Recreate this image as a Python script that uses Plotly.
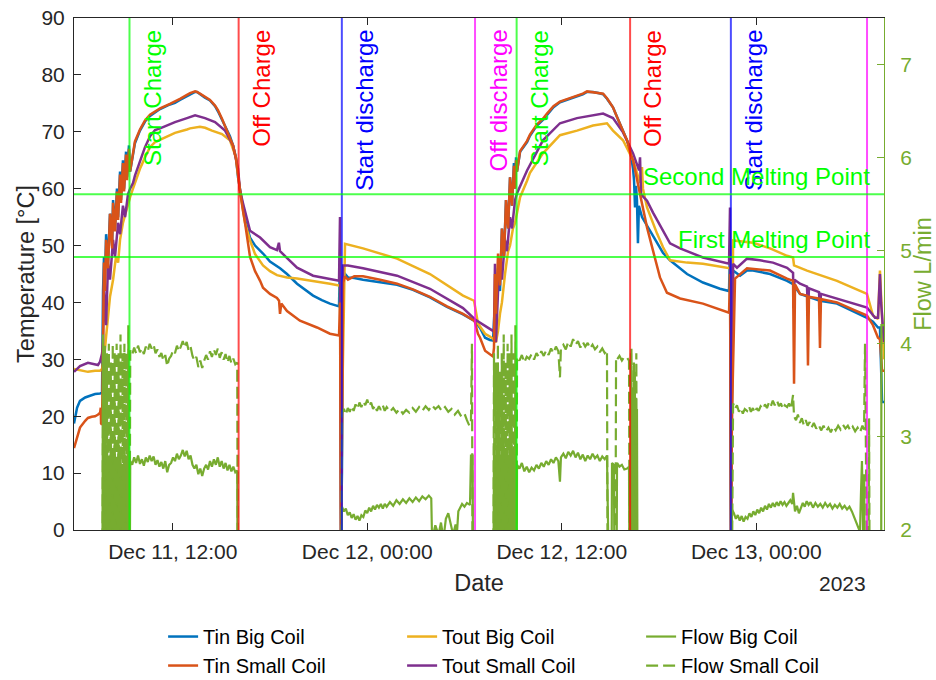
import pandas as pd
import plotly.graph_objects as go

# ---------------- data (hours after 2023-12-11 00:00, value) ----------------
BASE = pd.Timestamp("2023-12-11 00:00")
X_START_H = 5.91
X_END_H = 55.88

TIN_BIG = [
    (5.91, 18.7), (6.10, 21.5), (6.28, 22.7), (6.60, 23.3), (6.90, 23.6), (7.21, 23.9), (7.52, 24.0), (7.64, 24.2),
    (7.70, 42), (7.76, 48), (7.82, 44), (7.89, 52), (8.01, 47), (8.13, 55.6), (8.26, 50), (8.32, 58), (8.44, 53),
    (8.56, 60), (8.63, 55), (8.75, 63), (8.81, 58), (8.93, 65), (9.00, 60), (9.12, 66.5), (9.18, 62), (9.30, 67.6), (9.37, 63),
    (9.55, 66), (9.67, 68), (9.98, 70.2), (10.29, 71.8), (10.60, 72.8), (10.91, 73.4), (11.22, 74.0), (11.83, 74.8),
    (12.14, 75.1), (12.45, 75.6), (12.88, 76.3), (13.07, 76.6), (13.38, 77.0), (13.50, 77.0), (13.68, 76.6), (13.99, 76.0),
    (14.30, 75.5), (14.61, 74.5), (14.79, 73.6), (15.04, 72.2), (15.23, 71.0), (15.53, 69.2), (15.72, 67.6), (15.90, 65.5),
    (16.03, 62.0), (16.21, 58.5),
    (16.34, 56.0), (16.46, 54.5), (16.77, 51.4), (17.08, 50.0), (17.57, 48.6), (18.00, 47.2), (18.62, 46.0), (19.05, 45.0),
    (19.67, 43.3), (20.66, 41.2), (21.20, 40.4), (21.70, 39.8), (22.26, 39.3),
    (22.32, 48), (22.38, 0), (22.44, 10), (22.51, 44.4), (22.63, 45.0), (22.81, 44.4), (23.20, 44.3), (23.74, 44.0),
    (24.79, 43.6), (25.84, 43.1), (26.82, 42.2), (27.87, 40.9), (28.92, 39.2), (29.91, 37.9), (30.59, 36.8), (30.65, 36.7),
    (30.96, 35.5), (31.27, 33.8), (31.57, 33.4), (31.76, 33.3),
    (31.88, 40), (31.94, 36), (32.07, 46), (32.19, 42), (32.31, 53), (32.44, 48), (32.56, 58), (32.69, 53), (32.81, 62),
    (32.93, 57), (33.05, 64.5), (33.12, 60), (33.18, 65.5), (33.24, 63),
    (33.43, 66.5), (33.86, 68.2), (34.04, 69.3), (34.44, 71.0), (34.84, 72.1), (35.09, 73.0), (35.49, 74.3), (35.89, 75.2),
    (36.30, 75.6), (36.70, 76.0), (36.94, 76.2), (37.30, 76.6), (37.56, 77.0), (37.93, 77.0), (38.25, 76.8), (38.55, 76.6),
    (38.79, 75.8), (39.16, 74.3), (39.41, 72.6), (39.59, 71.5), (39.78, 70.2), (40.03, 68.5), (40.21, 66.8), (40.40, 63.5),
    (40.46, 61.4), (40.52, 56.7), (40.58, 60.5), (40.64, 58.0), (40.70, 50.4), (40.76, 57.0), (40.95, 55.0), (41.26, 53.5),
    (41.45, 52.6), (41.88, 50.5), (42.25, 48.7), (42.68, 47.4), (43.30, 46.0), (43.73, 45.0), (44.71, 43.5), (45.76, 42.4),
    (46.32, 42.0),
    (46.38, 50), (46.44, 0), (46.50, 20), (46.57, 45.6), (47.00, 44.7), (47.43, 45.6), (47.80, 45.6), (48.85, 45.0),
    (49.90, 43.8), (50.27, 43.2), (50.70, 41.5), (51.93, 40.3), (52.98, 39.8), (54.09, 38.3), (54.83, 37.3), (55.20, 36.6),
    (55.51, 35.6), (55.63, 35.6), (55.70, 30), (55.76, 22.5), (55.88, 22.5),
]

TIN_SMALL = [
    (5.91, 14.4), (6.10, 16.5), (6.28, 18.0), (6.60, 19.2), (6.77, 19.7), (7.00, 19.9), (7.21, 20.0), (7.40, 20.3),
    (7.52, 20.6), (7.56, 21.5), (7.58, 18.7), (7.64, 18.5),
    (7.70, 40), (7.76, 47), (7.82, 42), (7.89, 51), (8.01, 46), (8.13, 55.6), (8.26, 49.5), (8.32, 57.5), (8.44, 52.5),
    (8.56, 59.5), (8.63, 54.5), (8.75, 62.5), (8.81, 57.5), (8.93, 64.5), (9.00, 59.5), (9.12, 66.0), (9.18, 61.5),
    (9.30, 67.0), (9.37, 63.0),
    (9.55, 66.3), (9.67, 68.3), (9.98, 70.4), (10.29, 72.0), (10.60, 73.0), (10.91, 73.5), (11.22, 74.1), (11.83, 74.9),
    (12.14, 75.3), (12.45, 75.8), (12.88, 76.5), (13.07, 76.8), (13.38, 77.1), (13.50, 77.0), (13.68, 76.7), (13.99, 76.2),
    (14.30, 75.6), (14.61, 74.6), (14.79, 73.8), (15.04, 72.3), (15.23, 71.0), (15.53, 69.2), (15.72, 67.6), (15.90, 65.3),
    (16.03, 62.0), (16.21, 58.5),
    (16.34, 56.0), (16.46, 54.0), (16.77, 48.0), (17.08, 45.5), (17.39, 43.8), (17.57, 42.6), (18.00, 41.5), (18.43, 40.8),
    (18.56, 40.3), (18.62, 38.0), (18.70, 39.8), (19.05, 38.5), (19.85, 36.8), (20.90, 35.6), (21.70, 34.5), (22.26, 34.2),
    (22.32, 40), (22.38, 0), (22.44, 15), (22.51, 43.5), (22.63, 44.6), (22.81, 44.0), (23.20, 44.6), (23.74, 44.6),
    (24.79, 44.0), (25.84, 43.3), (26.82, 42.3), (27.87, 41.0), (28.92, 39.3), (29.91, 38.0), (30.59, 36.8), (30.65, 36.5),
    (30.83, 34.5), (30.96, 33.8), (31.27, 31.5), (31.57, 30.8), (31.76, 30.5),
    (31.82, 32), (31.88, 45), (31.94, 38), (32.07, 48.6), (32.19, 43), (32.31, 53), (32.44, 48), (32.56, 58), (32.69, 53),
    (32.81, 62), (32.93, 57), (33.05, 64), (33.12, 60), (33.18, 65), (33.24, 63),
    (33.43, 66.6), (33.86, 68.4), (34.04, 69.5), (34.44, 71.2), (34.84, 72.3), (35.09, 73.2), (35.49, 74.5), (35.89, 75.3),
    (36.30, 75.7), (36.70, 76.1), (36.94, 76.3), (37.30, 76.7), (37.56, 77.1), (37.93, 77.0), (38.25, 76.9), (38.55, 76.7),
    (38.79, 75.9), (39.16, 74.3), (39.41, 72.6), (39.59, 71.5), (39.78, 70.2), (40.03, 68.5), (40.21, 66.5), (40.40, 65.0),
    (40.83, 59.0), (41.26, 53.2), (41.63, 49.1), (42.06, 44.4), (42.49, 41.7), (43.30, 40.7), (44.71, 39.8), (45.50, 39.0),
    (46.32, 38.2),
    (46.38, 45), (46.44, 0), (46.50, 20), (46.69, 44.2), (47.43, 46.0), (48.85, 45.6), (49.90, 44.2), (50.27, 43.8),
    (50.33, 25.7), (50.39, 43.2), (50.70, 41.5), (51.13, 41.2), (51.19, 28.9), (51.25, 41.0), (51.87, 40.7), (51.93, 32.0),
    (51.99, 40.6), (52.98, 40.0), (54.09, 38.6), (54.83, 37.7), (55.20, 36.0), (55.51, 33.8), (55.63, 33.5), (55.70, 29),
    (55.76, 28), (55.88, 28),
]

TOUT_BIG = [
    (5.91, 28.3), (6.28, 28.1), (6.77, 27.8), (7.21, 28.0), (7.52, 28.0), (7.64, 28.3),
    (7.76, 30), (7.89, 34), (8.01, 38), (8.13, 41), (8.32, 44), (8.50, 48), (8.63, 47), (8.75, 51), (8.93, 54), (9.12, 56),
    (9.24, 57.5), (9.37, 58.5), (9.55, 60), (9.67, 61), (9.98, 63.5), (10.29, 65.5), (10.60, 67.3), (10.91, 68.2),
    (11.22, 68.6), (11.83, 69.4), (12.14, 69.8), (12.88, 70.4), (13.07, 70.6), (13.68, 70.9), (14.00, 70.7), (14.42, 70.2),
    (15.04, 69.6), (15.53, 68.5), (15.90, 65.5), (16.15, 59.7),
    (16.34, 56.0), (16.46, 54.0), (16.77, 50.9), (17.08, 48.5), (17.57, 46.5), (18.00, 45.5), (18.43, 44.8), (19.05, 44.4),
    (19.67, 44.2), (20.66, 43.8), (21.70, 43.3), (22.26, 43.0),
    (22.32, 43), (22.38, 0), (22.44, 20), (22.63, 50.3), (23.74, 49.5), (25.84, 47.7), (27.87, 45.0), (29.91, 41.2),
    (30.59, 40.3), (30.83, 36.3), (31.27, 34.5), (31.57, 34.0), (31.76, 33.6),
    (31.94, 33.0), (32.07, 35), (32.19, 38), (32.31, 40), (32.50, 45), (32.69, 49), (32.81, 50), (32.99, 53), (33.12, 54),
    (33.24, 56), (33.43, 58.5), (33.86, 61.4), (34.04, 62.8), (34.84, 66.2), (35.89, 69.4), (36.94, 70.2), (37.93, 71.1),
    (38.79, 71.5), (39.16, 70.2), (39.78, 68.5), (40.40, 65.0), (40.83, 61.0), (40.95, 63.8), (41.01, 60.0), (41.26, 56.7),
    (41.88, 52.1), (42.25, 49.7), (42.68, 47.4), (43.73, 47.0), (44.71, 46.8), (46.32, 46.1),
    (46.38, 46), (46.44, 0), (46.50, 25), (46.57, 50.9), (47.80, 50.5), (48.85, 49.5), (49.90, 48.2), (50.27, 47.9),
    (50.33, 46.5), (51.13, 45.6), (52.98, 43.8), (54.83, 41.5), (55.20, 37.7), (55.51, 37.1), (55.63, 45.6), (55.76, 38),
    (55.88, 30),
]

TOUT_SMALL = [
    (5.91, 27.8), (6.28, 28.8), (6.77, 29.4), (7.21, 29.2), (7.39, 29.0), (7.52, 29.6), (7.64, 31.0),
    (7.70, 33), (7.76, 43), (7.89, 36), (8.01, 47), (8.13, 44), (8.32, 51), (8.44, 48), (8.63, 54), (8.75, 52), (8.93, 57),
    (9.06, 55), (9.24, 59), (9.37, 60), (9.55, 61), (9.67, 62.3), (9.98, 65), (10.29, 67.3), (10.60, 69.2), (10.91, 70.3),
    (11.22, 70.6), (11.83, 71.3), (12.14, 71.7), (12.88, 72.4), (13.38, 72.9), (13.99, 72.4), (14.61, 71.7), (15.23, 70.2),
    (15.72, 67.6), (16.03, 63.5), (16.15, 59.7),
    (16.34, 57.4), (16.77, 52.6), (17.39, 51.4), (18.00, 49.7), (18.43, 49.2), (18.55, 50.5), (18.62, 49.0), (19.67, 46.1),
    (20.66, 44.7), (21.70, 44.2), (22.26, 43.8),
    (22.32, 55), (22.38, 0), (22.44, 30), (22.51, 46.5), (22.81, 46.5), (23.74, 46.0), (25.84, 44.7), (27.87, 42.4),
    (29.91, 39.0), (30.65, 37.0), (31.76, 35.0),
    (31.82, 35), (31.88, 46.8), (31.94, 33), (32.07, 42), (32.19, 47), (32.31, 44), (32.50, 51), (32.62, 49), (32.81, 55),
    (32.93, 53), (33.12, 58), (33.24, 59.2), (33.86, 63.2), (34.84, 68.5), (35.89, 71.5), (36.94, 72.4), (37.93, 72.9),
    (38.55, 73.2), (39.16, 72.4), (39.78, 69.9), (40.40, 66.2), (40.77, 63.2), (40.83, 65.5), (40.89, 59.0), (41.26, 57.9),
    (41.63, 55.8), (42.68, 50.4), (43.30, 49.5), (44.71, 47.9), (46.32, 46.8),
    (46.38, 56.7), (46.44, 0), (46.50, 30), (46.57, 46.8), (46.81, 46.1), (47.43, 47.7), (48.23, 47.4), (49.03, 47.0),
    (49.90, 46.1), (50.27, 45.2), (50.30, 39.0), (50.36, 44.0), (50.70, 43.3), (51.13, 42.8), (51.19, 38.0), (51.25, 42.5),
    (51.87, 41.8), (51.93, 38.2), (51.99, 41.5), (52.98, 40.7), (54.83, 39.1), (55.33, 37.3), (55.51, 37.3), (55.63, 45.0),
    (55.70, 40), (55.88, 33),
]

FLOW_BIG = [
    (5.91, 0), (7.64, 0),
    (7.70, 4.1), (7.76, 0), (7.82, 3.9), (7.88, 0), (7.94, 2.9), (8.00, 0), (8.06, 2.8), (8.12, 0), (8.18, 3.0), (8.24, 0),
    (8.30, 2.8), (8.36, 0), (8.42, 2.9), (8.48, 0), (8.54, 2.7), (8.60, 0), (8.66, 2.9), (8.72, 0), (8.78, 2.8), (8.84, 0),
    (8.90, 2.7), (8.96, 0), (9.02, 2.9), (9.08, 0), (9.14, 2.8), (9.20, 0), (9.26, 2.8), (9.32, 0),
    (9.38, 2.74), (9.50, 2.70), (9.62, 2.78), (9.74, 2.72), (9.86, 2.80), (9.98, 2.71), (10.10, 2.76), (10.22, 2.69),
    (10.34, 2.78), (10.46, 2.73), (10.58, 2.80), (10.70, 2.74), (10.82, 2.79), (10.94, 2.70), (11.06, 2.75), (11.18, 2.68),
    (11.30, 2.73), (11.42, 2.66), (11.54, 2.74), (11.66, 2.62), (11.78, 2.70), (11.90, 2.72), (12.02, 2.78), (12.14, 2.74),
    (12.26, 2.82), (12.38, 2.76), (12.50, 2.80), (12.62, 2.86), (12.74, 2.79), (12.86, 2.85), (12.98, 2.76), (13.10, 2.80),
    (13.22, 2.70), (13.34, 2.66), (13.46, 2.70), (13.58, 2.60), (13.70, 2.66), (13.82, 2.58), (13.94, 2.66), (14.06, 2.70),
    (14.18, 2.65), (14.30, 2.74), (14.42, 2.68), (14.54, 2.76), (14.66, 2.70), (14.78, 2.78), (14.90, 2.68), (15.02, 2.74),
    (15.14, 2.66), (15.26, 2.72), (15.38, 2.64), (15.50, 2.70), (15.62, 2.63), (15.74, 2.68), (15.86, 2.62), (15.98, 2.64),
    (16.03, 0), (22.38, 0),
    (22.44, 2.25), (22.56, 2.20), (22.68, 2.23), (22.80, 2.16), (22.92, 2.19), (23.04, 2.13), (23.16, 2.17), (23.28, 2.11),
    (23.40, 2.15), (23.52, 2.10), (23.64, 2.16), (23.76, 2.14), (23.88, 2.21), (24.00, 2.18), (24.12, 2.24), (24.24, 2.20),
    (24.36, 2.26), (24.48, 2.22), (24.60, 2.27), (24.72, 2.24), (24.84, 2.28), (24.96, 2.23), (25.08, 2.28), (25.20, 2.25),
    (25.40, 2.30), (25.60, 2.26), (25.80, 2.32), (26.00, 2.28), (26.20, 2.33), (26.40, 2.29), (26.60, 2.34), (26.80, 2.30),
    (27.00, 2.35), (27.20, 2.31), (27.40, 2.36), (27.60, 2.33), (27.80, 2.37), (27.95, 2.34), (28.00, 1.9), (28.20, 2.05),
    (28.40, 1.95), (28.55, 2.08), (28.70, 1.9), (28.85, 2.12), (29.00, 2.18), (29.15, 2.05), (29.30, 1.95), (29.45, 2.06),
    (29.54, 1.98), (29.62, 2.20), (29.72, 2.24), (29.85, 2.28), (30.00, 2.25), (30.15, 2.29), (30.34, 2.27), (30.40, 2.80),
    (30.50, 2.80), (30.56, 0), (31.76, 0),
    (31.82, 2.9), (31.88, 0), (31.94, 2.8), (32.00, 0), (32.06, 3.8), (32.12, 0), (32.18, 2.7), (32.24, 0), (32.30, 2.9),
    (32.36, 0), (32.42, 3.1), (32.48, 0), (32.54, 2.8), (32.60, 0), (32.66, 2.9), (32.72, 0), (32.78, 2.7), (32.84, 0),
    (32.90, 2.8), (32.96, 0), (33.02, 2.9), (33.08, 0), (33.14, 2.8), (33.20, 0),
    (33.24, 2.70), (33.39, 2.66), (33.54, 2.72), (33.69, 2.63), (33.84, 2.68), (33.99, 2.62), (34.14, 2.67), (34.29, 2.64),
    (34.44, 2.70), (34.59, 2.66), (34.74, 2.72), (34.89, 2.68), (35.04, 2.74), (35.19, 2.70), (35.34, 2.76), (35.49, 2.72),
    (35.64, 2.78), (35.79, 2.74), (35.89, 2.52), (35.95, 2.78), (36.10, 2.82), (36.25, 2.77), (36.40, 2.84), (36.55, 2.80),
    (36.70, 2.85), (36.85, 2.78), (37.00, 2.83), (37.15, 2.76), (37.30, 2.81), (37.45, 2.74), (37.60, 2.80), (37.75, 2.76),
    (37.90, 2.82), (38.05, 2.77), (38.20, 2.80), (38.35, 2.74), (38.50, 2.79), (38.65, 2.76), (38.79, 2.80), (38.85, 0),
    (39.04, 0), (39.10, 2.72), (39.22, 2.70), (39.29, 0), (39.35, 0), (39.41, 2.72), (39.56, 2.68), (39.71, 2.70),
    (39.86, 2.65), (40.03, 2.66), (40.15, 2.68), (40.21, 0), (40.27, 3.9), (40.33, 0), (40.39, 3.5), (40.45, 0), (40.51, 3.7),
    (40.57, 0), (40.64, 3.3), (40.70, 0), (46.44, 0),
    (46.50, 2.22), (46.62, 2.18), (46.74, 2.12), (46.86, 2.16), (46.98, 2.10), (47.10, 2.15), (47.22, 2.09), (47.34, 2.14),
    (47.46, 2.12), (47.58, 2.18), (47.70, 2.14), (47.82, 2.20), (47.94, 2.16), (48.06, 2.22), (48.18, 2.18), (48.30, 2.24),
    (48.42, 2.20), (48.54, 2.26), (48.66, 2.22), (48.78, 2.28), (48.90, 2.24), (49.02, 2.29), (49.14, 2.25), (49.26, 2.30),
    (49.38, 2.26), (49.50, 2.31), (49.62, 2.27), (49.74, 2.30), (49.86, 2.26), (49.98, 2.29), (50.10, 2.32), (50.22, 2.28),
    (50.27, 2.40), (50.39, 2.20), (50.51, 2.26), (50.63, 2.18), (50.75, 2.24), (50.87, 2.29), (50.99, 2.25), (51.11, 2.31),
    (51.23, 2.27), (51.35, 2.30), (51.50, 2.24), (51.65, 2.29), (51.80, 2.25), (51.95, 2.28), (52.10, 2.24), (52.25, 2.29),
    (52.40, 2.25), (52.55, 2.28), (52.70, 2.23), (52.85, 2.27), (53.00, 2.24), (53.15, 2.28), (53.30, 2.23), (53.45, 2.26),
    (53.60, 2.22), (53.75, 2.25), (53.90, 2.20), (54.09, 2.12), (54.25, 2.05), (54.40, 1.98), (54.46, 2.40), (54.52, 2.74),
    (54.60, 1.9), (54.66, 2.6), (54.72, 0), (55.70, 0), (55.72, 4.2), (55.88, 4.2),
]

FLOW_SMALL = [
    (5.91, 0), (7.64, 0),
    (7.70, 3.5), (7.76, 0), (7.82, 4.0), (7.88, 0), (7.94, 3.9), (8.00, 0), (8.06, 4.0), (8.12, 0), (8.18, 3.8), (8.24, 0),
    (8.30, 4.0), (8.36, 0), (8.42, 3.9), (8.48, 0), (8.54, 4.0), (8.60, 0), (8.66, 3.9), (8.72, 0), (8.78, 4.1), (8.84, 0),
    (8.90, 3.9), (8.96, 0), (9.02, 4.0), (9.08, 0), (9.14, 3.9), (9.20, 0), (9.26, 4.2), (9.32, 0),
    (9.38, 3.93), (9.50, 3.88), (9.62, 3.96), (9.74, 3.90), (9.86, 3.98), (9.98, 3.91), (10.10, 3.95), (10.22, 3.89),
    (10.34, 3.97), (10.46, 3.92), (10.58, 4.00), (10.70, 3.95), (10.82, 3.99), (10.94, 3.90), (11.06, 3.94), (11.18, 3.86),
    (11.30, 3.90), (11.42, 3.82), (11.54, 3.88), (11.66, 3.76), (11.78, 3.84), (11.90, 3.87), (12.02, 3.93), (12.14, 3.90),
    (12.26, 3.98), (12.38, 3.92), (12.50, 3.97), (12.62, 4.03), (12.74, 3.96), (12.86, 4.02), (12.98, 3.93), (13.10, 3.97),
    (13.22, 3.87), (13.34, 3.82), (13.46, 3.86), (13.58, 3.75), (13.70, 3.82), (13.82, 3.74), (13.94, 3.82), (14.06, 3.88),
    (14.18, 3.83), (14.30, 3.92), (14.42, 3.86), (14.54, 3.94), (14.66, 3.88), (14.78, 3.95), (14.90, 3.85), (15.02, 3.91),
    (15.14, 3.83), (15.26, 3.89), (15.38, 3.80), (15.50, 3.87), (15.62, 3.79), (15.74, 3.84), (15.86, 3.78), (15.98, 3.80),
    (16.03, 0), (22.38, 0),
    (22.44, 3.26), (22.56, 3.30), (22.68, 3.24), (22.80, 3.31), (22.92, 3.27), (23.04, 3.33), (23.16, 3.28), (23.28, 3.35),
    (23.40, 3.30), (23.52, 3.37), (23.64, 3.32), (23.76, 3.38), (23.88, 3.34), (24.00, 3.40), (24.12, 3.33), (24.24, 3.37),
    (24.36, 3.30), (24.48, 3.34), (24.60, 3.28), (24.72, 3.33), (24.84, 3.29), (24.96, 3.34), (25.08, 3.28), (25.20, 3.32),
    (25.40, 3.27), (25.60, 3.31), (25.80, 3.26), (26.00, 3.30), (26.20, 3.25), (26.40, 3.29), (26.60, 3.26), (26.80, 3.31),
    (27.00, 3.27), (27.20, 3.32), (27.40, 3.28), (27.60, 3.33), (27.80, 3.29), (28.00, 3.34), (28.20, 3.30), (28.40, 3.33),
    (28.60, 3.28), (28.80, 3.32), (29.00, 3.27), (29.20, 3.30), (29.40, 3.24), (29.60, 3.28), (29.80, 3.22), (30.00, 3.25),
    (30.15, 3.18), (30.30, 3.12), (30.40, 3.17), (30.46, 4.0), (30.52, 0), (31.76, 0),
    (31.82, 3.9), (31.88, 0), (31.94, 3.8), (32.00, 0), (32.06, 4.0), (32.12, 0), (32.18, 3.7), (32.24, 0), (32.30, 3.9),
    (32.36, 0), (32.42, 4.1), (32.48, 0), (32.54, 3.8), (32.60, 0), (32.66, 4.0), (32.72, 0), (32.78, 3.9), (32.84, 0),
    (32.90, 4.1), (32.96, 0), (33.02, 3.9), (33.08, 0), (33.14, 4.2), (33.20, 0),
    (33.24, 3.86), (33.39, 3.82), (33.54, 3.88), (33.69, 3.80), (33.84, 3.86), (33.99, 3.84), (34.14, 3.89), (34.29, 3.83),
    (34.44, 3.90), (34.59, 3.86), (34.74, 3.92), (34.89, 3.87), (35.04, 3.93), (35.19, 3.88), (35.34, 3.95), (35.49, 3.90),
    (35.64, 3.97), (35.79, 3.92), (35.89, 3.64), (35.95, 3.96), (36.10, 3.99), (36.25, 3.94), (36.40, 4.02), (36.55, 3.97),
    (36.70, 4.05), (36.85, 3.99), (37.00, 4.03), (37.15, 3.96), (37.30, 4.02), (37.45, 3.97), (37.60, 4.01), (37.75, 3.95),
    (37.90, 3.99), (38.05, 3.94), (38.20, 3.97), (38.35, 3.91), (38.50, 3.95), (38.65, 3.90), (38.79, 3.93), (38.85, 0),
    (39.29, 0), (39.35, 3.85), (39.41, 3.83), (39.56, 3.87), (39.71, 3.82), (39.86, 3.86), (40.03, 3.85), (40.15, 3.82),
    (40.21, 0), (40.30, 3.95), (40.36, 0), (40.45, 3.8), (40.51, 0), (40.60, 3.9), (40.66, 0), (46.44, 0),
    (46.57, 3.36), (46.69, 3.30), (46.81, 3.34), (46.93, 3.27), (47.05, 3.31), (47.17, 3.25), (47.29, 3.30), (47.43, 3.28),
    (47.55, 3.33), (47.67, 3.27), (47.79, 3.31), (47.91, 3.26), (48.03, 3.31), (48.15, 3.28), (48.27, 3.33), (48.42, 3.30),
    (48.54, 3.35), (48.66, 3.31), (48.78, 3.37), (48.90, 3.33), (49.02, 3.39), (49.14, 3.34), (49.28, 3.39), (49.40, 3.33),
    (49.52, 3.36), (49.64, 3.30), (49.76, 3.34), (49.90, 3.32), (50.02, 3.36), (50.14, 3.30), (50.27, 3.45), (50.33, 3.22),
    (50.45, 3.18), (50.57, 3.24), (50.69, 3.15), (50.81, 3.20), (50.93, 3.13), (51.05, 3.18), (51.17, 3.12), (51.29, 3.16),
    (51.41, 3.10), (51.55, 3.15), (51.70, 3.09), (51.85, 3.13), (52.00, 3.07), (52.15, 3.12), (52.30, 3.06), (52.45, 3.10),
    (52.60, 3.05), (52.75, 3.11), (52.90, 3.07), (53.05, 3.12), (53.20, 3.08), (53.35, 3.13), (53.50, 3.09), (53.65, 3.12),
    (53.80, 3.07), (53.95, 3.11), (54.10, 3.06), (54.25, 3.10), (54.40, 3.05), (54.55, 3.12), (54.65, 3.08), (54.71, 4.0),
    (54.77, 0), (54.90, 0), (54.96, 3.2), (55.02, 0), (55.88, 0),
]

EVENT_TIMES = ["2023-12-11 09:20", "2023-12-11 16:04", "2023-12-11 22:26", "2023-12-12 06:39",
               "2023-12-12 09:13", "2023-12-12 16:13", "2023-12-12 22:26", "2023-12-13 06:50"]
EVENT_LABELS = ["Start Charge", "Off Charge", "Start discharge", "Off discharge",
                "Start Charge", "Off Charge", "Start discharge", "Off discharge"]
EVENT_KIND = ["g", "r", "b", "m", "g", "r", "b", "m"]
EVENT_SHOW_LABEL = [True, True, True, True, True, True, True, False]

MELT_VALUES = [59, 48]
MELT_LABELS = ["Second Melting Point", "First Melting Point"]

LINE_COLORS = {"g": "rgba(0,255,0,0.7)", "r": "rgba(255,0,0,0.7)",
               "b": "rgba(0,0,255,0.7)", "m": "rgba(255,0,255,0.7)"}
TEXT_COLORS = {"g": "#00FF00", "r": "#FF0000", "b": "#0000FF", "m": "#FF00FF"}


def unpack(series):
    hours = [p[0] for p in series]
    vals = [p[1] for p in series]
    times = [BASE + pd.Timedelta(hours=h) for h in hours]
    return times, vals


FONT = "Arial, 'Liberation Sans', sans-serif"
DARK = "#262626"
FLOW_C = "#77AC30"

fig = go.Figure()

temp_series = [
    ("Tin Big Coil", TIN_BIG, "#0072BD", 1),
    ("Tout Big Coil", TOUT_BIG, "#EDB120", 2),
    ("Tout Small Coil", TOUT_SMALL, "#7E2F8E", 5),
    ("Tin Small Coil", TIN_SMALL, "#D95319", 4),
]
for name, s, col, rank in temp_series:
    t, v = unpack(s)
    fig.add_trace(go.Scatter(x=t, y=v, mode="lines", name=name, legendrank=rank,
                             line=dict(color=col, width=2.5), yaxis="y"))

for name, s, dash, rank in [("Flow Big Coil", FLOW_BIG, "solid", 3),
                            ("Flow Small Coil", FLOW_SMALL, "12px,5px", 6)]:
    t, v = unpack(s)
    fig.add_trace(go.Scatter(x=t, y=v, mode="lines", name=name, legendrank=rank,
                             line=dict(color=FLOW_C, width=2.2, dash=dash), yaxis="y2"))

# event lines + labels
for tm, lab, k, show in zip(EVENT_TIMES, EVENT_LABELS, EVENT_KIND, EVENT_SHOW_LABEL):
    fig.add_shape(type="line", xref="x", yref="paper", x0=tm, x1=tm, y0=0, y1=1,
                  line=dict(color=LINE_COLORS[k], width=2), layer="above")
    if show:
        fig.add_annotation(x=tm, xref="x", y=1, yref="paper", text=lab, textangle=-90,
                           showarrow=False, xanchor="left", yanchor="top", xshift=7, yshift=-10,
                           font=dict(family=FONT, size=24, color=TEXT_COLORS[k]))

for val, lab in zip(MELT_VALUES, MELT_LABELS):
    fig.add_shape(type="line", xref="paper", yref="y", x0=0, x1=1, y0=val, y1=val,
                  line=dict(color=LINE_COLORS["g"], width=2), layer="above")
    fig.add_annotation(x=1, xref="paper", y=val, yref="y", text=lab, showarrow=False,
                       xanchor="right", yanchor="bottom", xshift=-12, yshift=2,
                       font=dict(family=FONT, size=24, color=TEXT_COLORS["g"]))

fig.add_annotation(x=1, xref="paper", y=-0.104, yref="paper", text="2023", showarrow=False,
                   xanchor="right", yanchor="middle", xshift=-16,
                   font=dict(family=FONT, size=21, color=DARK))

x0 = BASE + pd.Timedelta(hours=X_START_H)
x1 = BASE + pd.Timedelta(hours=X_END_H)

fig.update_layout(
    width=936, height=680,
    margin=dict(l=74, r=52, t=18, b=150, autoexpand=False),
    paper_bgcolor="white", plot_bgcolor="white",
    font=dict(family=FONT, size=21, color=DARK),
    showlegend=True,
    legend=dict(orientation="h", x=0.11, y=-0.17, xanchor="left", yanchor="top",
                font=dict(family=FONT, size=20, color="#000000"),
                entrywidth=194, bgcolor="rgba(0,0,0,0)"),
    xaxis=dict(type="date", range=[x0, x1], tickformat="%b %d, %H:%M",
               tick0="2023-12-11 00:00", dtick=43200000, automargin=False,
               ticks="inside", ticklen=7, tickcolor=DARK, showline=True, linecolor=DARK,
               linewidth=1, mirror="ticks", showgrid=False, zeroline=False,
               tickfont=dict(size=21, color=DARK), ticklabelstandoff=3,
               title=dict(text="Date", font=dict(size=23.5, color=DARK), standoff=12)),
    yaxis=dict(range=[0, 90], dtick=10, ticks="inside", ticklen=7, tickcolor=DARK, automargin=False,
               showline=True, linecolor=DARK, linewidth=1, showgrid=False, zeroline=False,
               tickfont=dict(size=21, color=DARK), ticklabelstandoff=4,
               title=dict(text="Temperature [°C]", font=dict(size=23.5, color=DARK), standoff=0)),
    yaxis2=dict(overlaying="y", side="right", range=[2, 7.5], tick0=2, dtick=1, automargin=False,
                ticks="inside", ticklen=7, tickcolor=FLOW_C, showline=True, linecolor=FLOW_C,
                linewidth=1, showgrid=False, zeroline=False,
                tickfont=dict(size=21, color=FLOW_C), ticklabelstandoff=11,
                title=dict(text="Flow L/min", font=dict(size=23.5, color=FLOW_C), standoff=12)),
)

fig.write_html("out.html", config={"displayModeBar": False},
               post_script="document.body.style.margin='0';document.body.style.overflow='hidden';")
